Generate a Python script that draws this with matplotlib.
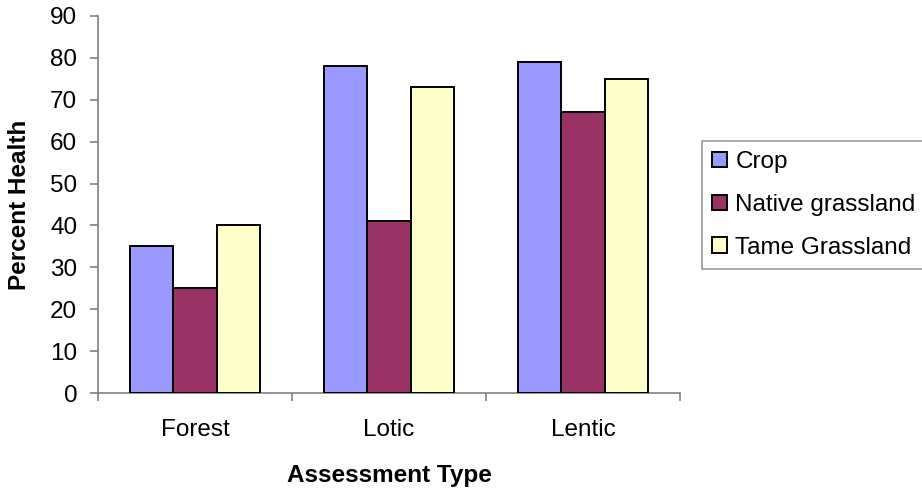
import matplotlib
matplotlib.use("Agg")
import matplotlib.pyplot as plt
import numpy as np

categories = ["Forest", "Lotic", "Lentic"]
series_names = ["Crop", "Native grassland", "Tame Grassland"]
crop = [35, 78, 79]
native = [25, 41, 67]
tame = [40, 73, 75]
colors = ["#9999FF", "#993366", "#FFFFCC"]
yticks = [0, 10, 20, 30, 40, 50, 60, 70, 80, 90]

plt.rcParams['font.family'] = ['Liberation Sans', 'DejaVu Sans']
FS = 17.5

fig = plt.figure(figsize=(9.22, 4.91), dpi=100)
W, H = 922, 491
ax = fig.add_axes([98 / W, 1 - 393 / H, (680 - 98) / W, (393 - 16) / H])

x = np.arange(len(categories))
bw = 0.2222
for i, (vals, name, c) in enumerate(zip([crop, native, tame], series_names, colors)):
    ax.bar(x + (i - 1) * bw, vals, width=bw, color=c, edgecolor="black",
           linewidth=1.4, label=name, zorder=3)

ax.set_xlim(-0.5, len(categories) - 0.5)
ax.set_ylim(0, 90)
ax.set_yticks(yticks)
ax.set_yticklabels([str(v) for v in yticks], fontsize=FS)
ax.set_xticks(x)
ax.set_xticklabels(categories, fontsize=FS)
ax.tick_params(axis="x", length=0, pad=19)
ax.set_xticks(np.arange(-0.5, len(categories), 1.0), minor=True)
ax.tick_params(axis="x", which="minor", length=6, color="#808080", width=1.2, direction="out")
ax.tick_params(axis="y", length=6, color="#808080", width=1.2, direction="out", pad=9)

for s in ["top", "right"]:
    ax.spines[s].set_visible(False)
for s in ["left", "bottom"]:
    ax.spines[s].set_color("#808080")
    ax.spines[s].set_linewidth(1.2)

ax.set_xlabel("Assessment Type", fontsize=FS, fontweight="bold", labelpad=16)
ax.set_ylabel("Percent Health", fontsize=FS, fontweight="bold", labelpad=14)

leg = fig.legend(loc="upper left", bbox_to_anchor=(702 / W, 1 - 141 / H),
                 fontsize=FS, frameon=True, fancybox=False, handlelength=0.6,
                 handleheight=0.6, handletextpad=0.35, labelspacing=0.85,
                 borderpad=0.42, borderaxespad=0)
leg.get_frame().set_edgecolor("#808080")
leg.get_frame().set_linewidth(1.2)

fig.savefig("out.png", dpi=100)
